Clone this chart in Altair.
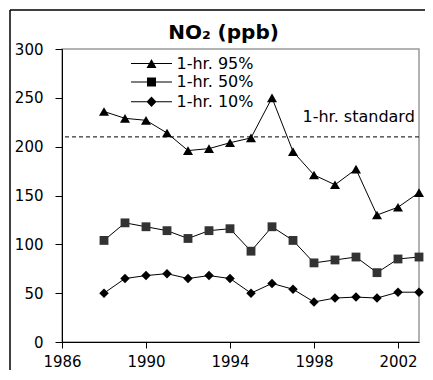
import altair as alt
import pandas as pd

# ---- data ----
years = list(range(1988, 2004))
p95 = [236, 229, 227, 214, 196, 198, 204, 209, 250, 195, 171, 161, 177, 130, 138, 153]
p50 = [104, 122, 118, 114, 106, 114, 116, 93, 118, 104, 81, 84, 87, 71, 85, 87]
p10 = [50, 65, 68, 70, 65, 68, 65, 50, 60, 54, 41, 45, 46, 45, 51, 51]
series_names = ["1-hr. 95%", "1-hr. 50%", "1-hr. 10%"]
standard_value = [210]
standard_label = ["1-hr. standard"]
standard_label_x = [1997.45]
standard_label_y = [225]
x_ticks = [1986, 1990, 1994, 1998, 2002]
y_ticks = [0, 50, 100, 150, 200, 250, 300]
title_text = "NO\u2082 (ppb)"

rows = []
for name, vals in zip(series_names, [p95, p50, p10]):
    for yr, v in zip(years, vals):
        rows.append({"year": yr, "value": v, "series": name})
df = pd.DataFrame(rows)

FONT = "DejaVu Sans"
x_scale = alt.Scale(domain=[1986, 2003], nice=False, zero=False)
y_scale = alt.Scale(domain=[0, 300], nice=False)

x_enc = alt.X("year:Q", scale=x_scale,
              axis=alt.Axis(values=x_ticks, format="d", title=None, grid=False,
                            tickSize=6, labelPadding=6, labelFlush=False))
y_enc = alt.Y("value:Q", scale=y_scale,
              axis=alt.Axis(values=y_ticks, title=None, grid=False,
                            tickSize=7, labelPadding=12))

base = alt.Chart(df)

one = pd.DataFrame({"a": [0]})
frame_top = alt.Chart(one).mark_rule(color="black", strokeWidth=1.5, clip=False).encode(
    x=alt.value(-52), x2=alt.value(363), y=alt.value(-39))
frame_left = alt.Chart(one).mark_rule(color="black", strokeWidth=1.5, clip=False).encode(
    x=alt.value(-52), y=alt.value(-39), y2=alt.value(321))

std_rule = alt.Chart(pd.DataFrame({"v": standard_value})).mark_rule(
    color="black", strokeWidth=1, strokeDash=[4, 3]
).encode(y=alt.Y("v:Q", scale=y_scale))

std_text = alt.Chart(pd.DataFrame({"x": standard_label_x, "y": standard_label_y, "t": standard_label})).mark_text(
    align="left", baseline="alphabetic", font=FONT, fontSize=16, color="black"
).encode(x=alt.X("x:Q", scale=x_scale), y=alt.Y("y:Q", scale=y_scale), text="t:N")

lines = base.mark_line(color="black", strokeWidth=1).encode(
    x=x_enc, y=y_enc, detail="series:N")


def pts(name, shape, size, color):
    return base.transform_filter(alt.datum.series == name).mark_point(
        filled=True, shape=shape, size=size, color=color, opacity=1
    ).encode(x=x_enc, y=y_enc)


p_tri = pts(series_names[0], "triangle-up", 100, "black")
p_sq = pts(series_names[1], "square", 78, "#333333")
p_dia = pts(series_names[2], "diamond", 90, "black")

LINE = "M-4.1,-0.1H4.1V0.1H-4.1Z"
legend_paths = [
    LINE + "M0,-0.9L1,0.9L-1,0.9Z",
    LINE + "M-0.9,-0.9H0.9V0.9H-0.9Z",
    LINE + "M-1,0L0,-1.05L1,0L0,1.05Z",
]

legend_layer = base.mark_point(filled=True, opacity=0, color="black").encode(
    x=x_enc, y=y_enc,
    shape=alt.Shape("series:N",
                    scale=alt.Scale(domain=series_names, range=legend_paths),
                    sort=series_names,
                    legend=alt.Legend(orient="none", legendX=81.5, legendY=6.5, title=None,
                                      labelFont=FONT, labelFontSize=16, labelColor="black",
                                      symbolSize=100, symbolFillColor="black",
                                      symbolOpacity=1, labelOffset=17, rowPadding=2.6,
                                      padding=0, labelLimit=300)))

chart = alt.layer(frame_top, frame_left, std_rule, lines, p_tri, p_sq, p_dia, legend_layer, std_text).properties(
    width=357, height=293,
    autosize=alt.AutoSizeParams(type="none"),
    padding={"left": 54, "top": 41, "right": 6, "bottom": 28},
    title=alt.Title(title_text, font=FONT, fontSize=20, fontWeight="bold", anchor="middle",
                    frame="group", dx=-17, baseline="bottom", offset=-53.5, color="black"),
    background="white",
).configure_view(stroke="#999999", strokeWidth=1.5).configure_axis(
    domainColor="black", tickColor="black", labelColor="black",
    labelFont=FONT, labelFontSize=15, domainWidth=1, tickWidth=1
)

chart.save("out.html", embed_options={"renderer": "svg", "actions": False})
